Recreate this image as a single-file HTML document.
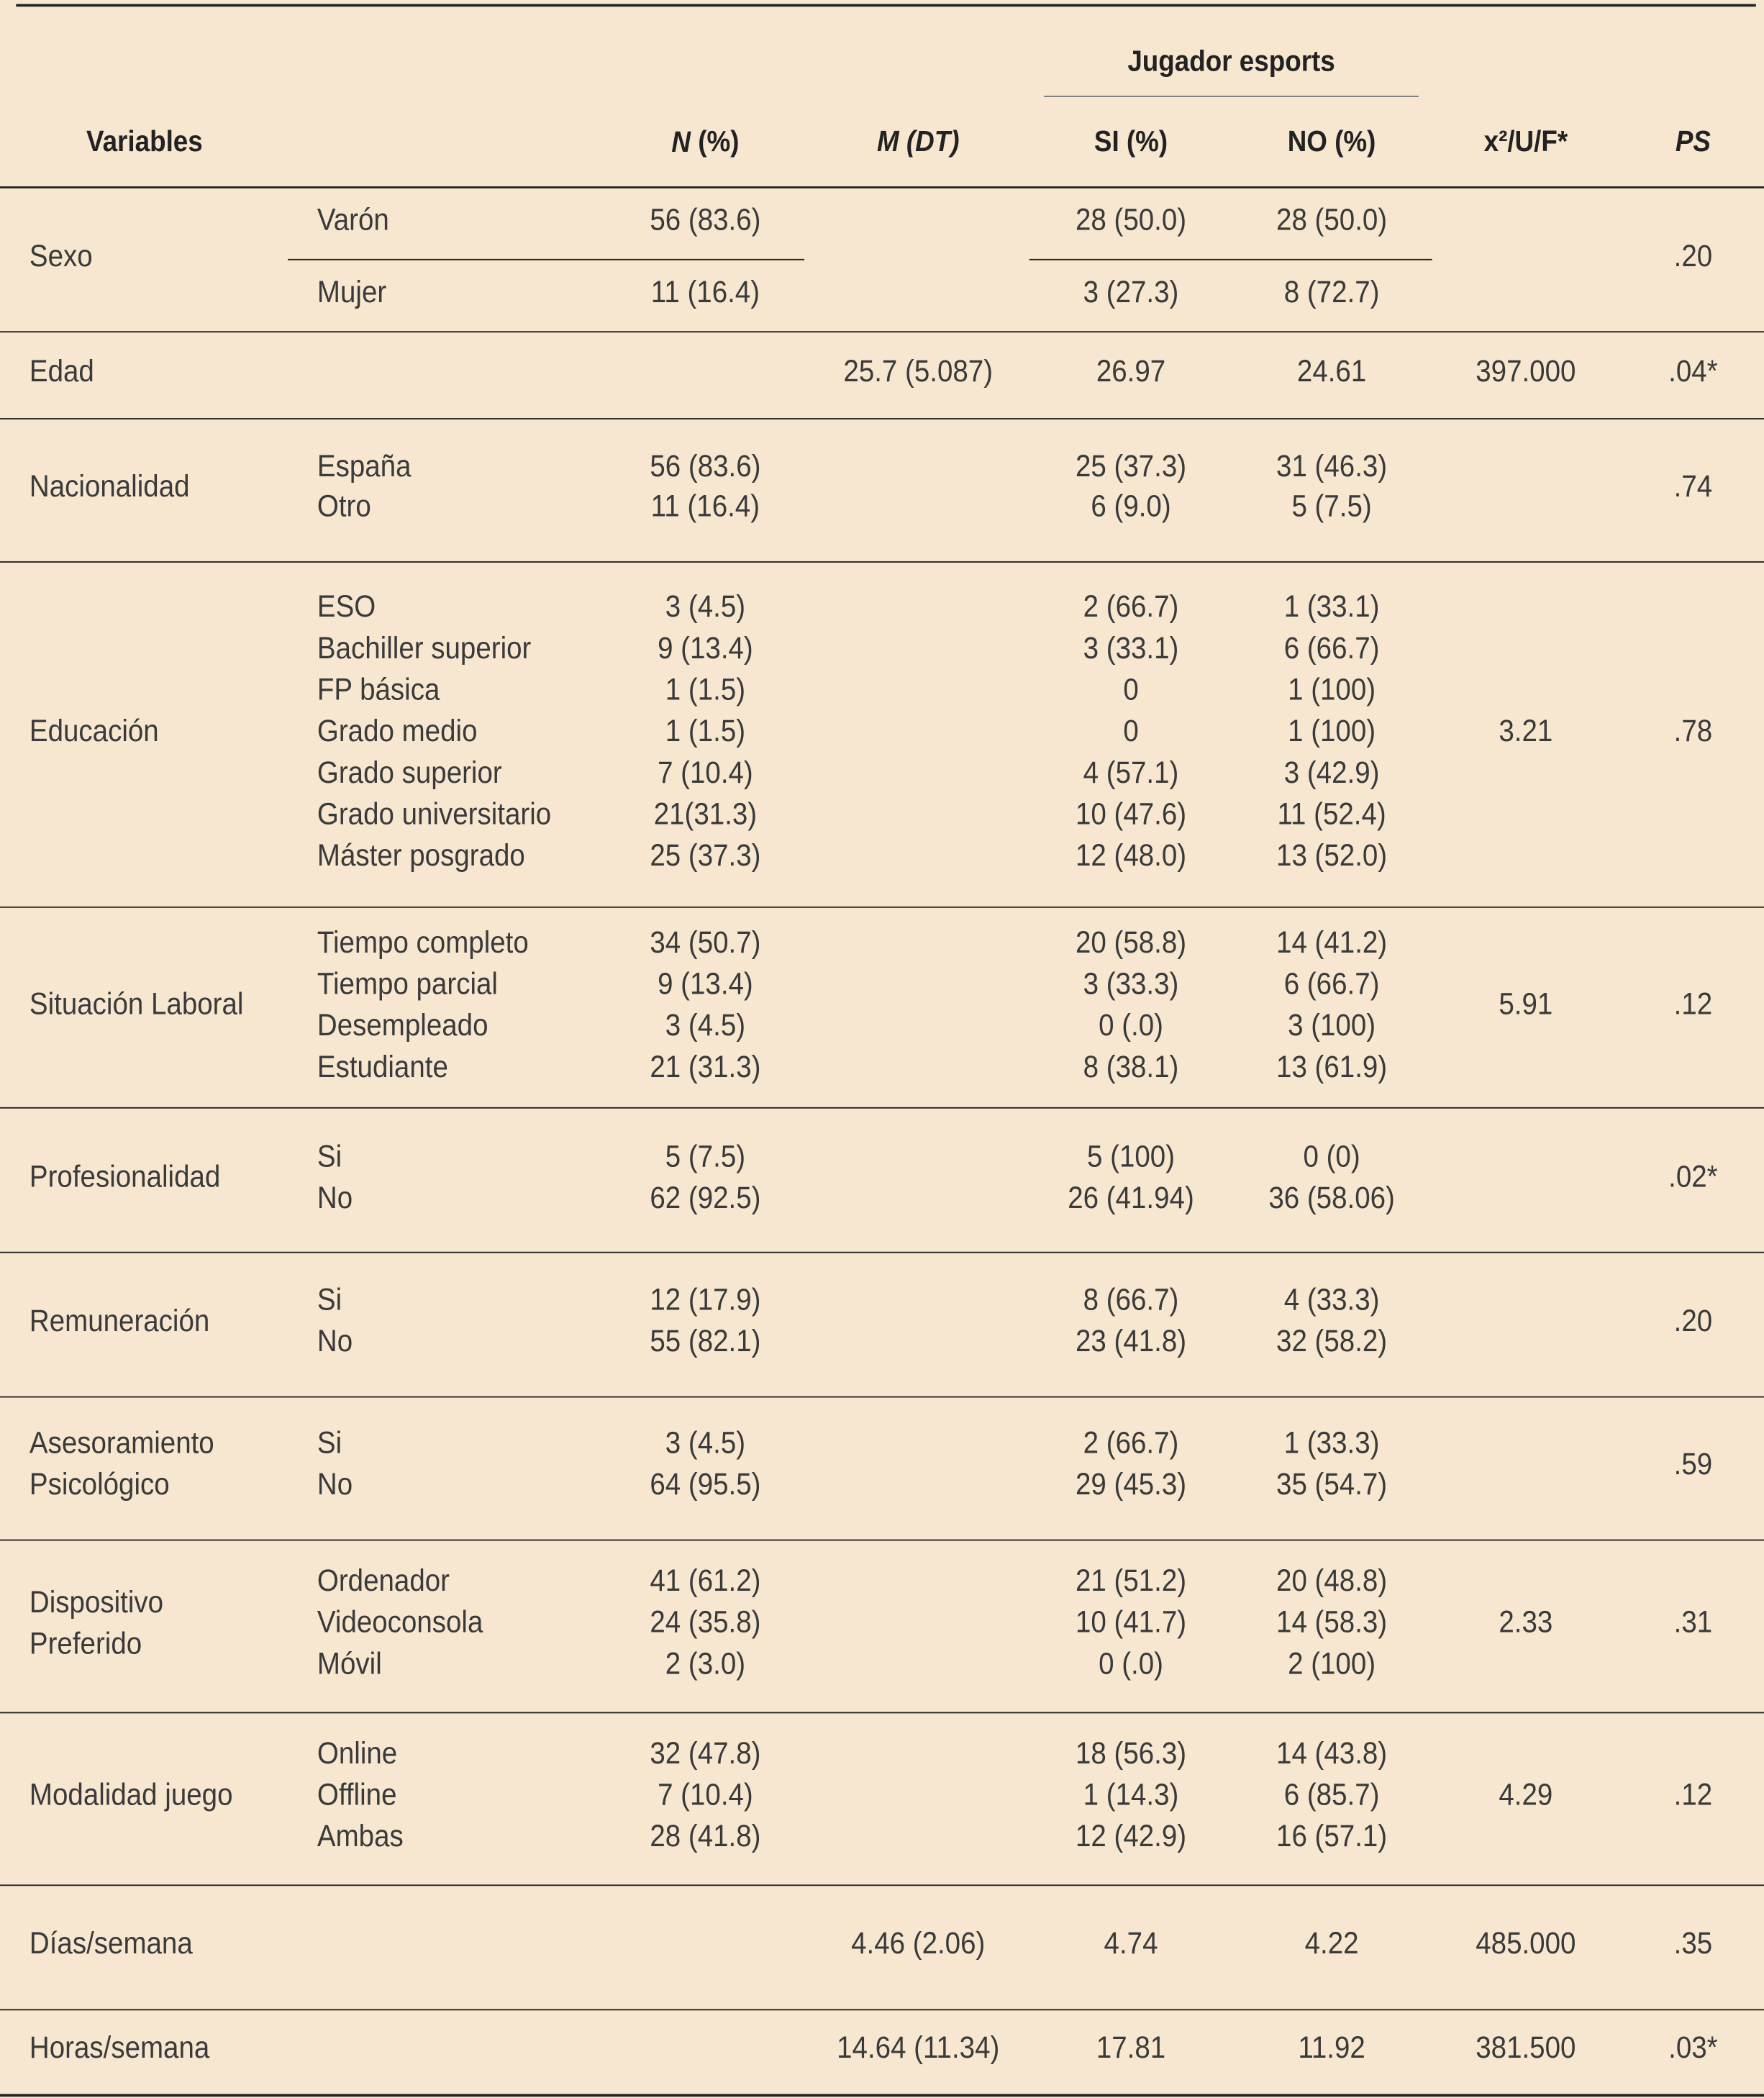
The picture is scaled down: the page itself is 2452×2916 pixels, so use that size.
<!DOCTYPE html>
<html><head><meta charset="utf-8"><style>
html,body{margin:0;padding:0;background:#f7e7d0;}
svg{display:block}
text{font-family:"Liberation Sans Narrow","Liberation Sans",sans-serif;font-size:23px;fill:#3a3a3a;dominant-baseline:central;transform-box:fill-box;transform-origin:left center;transform:scaleX(0.9)}
.h{fill:#222;font-weight:bold;font-size:22px}
.c{text-anchor:middle;transform-origin:center center}
</style></head><body>
<svg width="2452" height="2916" viewBox="0 0 1318 1568" preserveAspectRatio="none">
<rect width="1318" height="1568" fill="#f7e7d0"/>
<g stroke="#222">
<line x1="12" y1="4" x2="1312" y2="4" stroke-width="2"/>
<line x1="780" y1="72" x2="1060" y2="72" stroke="#777" stroke-width="1"/>
<line x1="0" y1="140" x2="1318" y2="140" stroke-width="1.5"/>
<line x1="215" y1="194" x2="601" y2="194" stroke-width="1"/>
<line x1="769" y1="194" x2="1070" y2="194" stroke-width="1"/>
<g stroke-width="1">
<line x1="0" y1="248" x2="1318" y2="248"/><line x1="0" y1="313" x2="1318" y2="313"/>
<line x1="0" y1="420" x2="1318" y2="420"/><line x1="0" y1="678" x2="1318" y2="678"/>
<line x1="0" y1="828" x2="1318" y2="828"/><line x1="0" y1="936" x2="1318" y2="936"/>
<line x1="0" y1="1044" x2="1318" y2="1044"/><line x1="0" y1="1151" x2="1318" y2="1151"/>
<line x1="0" y1="1280" x2="1318" y2="1280"/><line x1="0" y1="1409" x2="1318" y2="1409"/>
<line x1="0" y1="1502" x2="1318" y2="1502"/>
</g>
<line x1="0" y1="1566" x2="1318" y2="1566" stroke-width="2"/>
</g>
<text class="h c" x="920" y="46">Jugador esports</text>
<text class="h c" x="108" y="106">Variables</text>
<text class="h c" x="527" y="106"><tspan font-style="italic">N</tspan> (%)</text>
<text class="h c" x="686" y="106" font-style="italic">M (DT)</text>
<text class="h c" x="845" y="106">SI (%)</text>
<text class="h c" x="995" y="106">NO (%)</text>
<text class="h c" x="1140" y="106">x²/U/F*</text>
<text class="h c" x="1265" y="106" font-style="italic">PS</text>

<text x="22" y="191">Sexo</text>
<text x="237" y="164">Varón</text><text class="c" x="527" y="164">56 (83.6)</text><text class="c" x="845" y="164">28 (50.0)</text><text class="c" x="995" y="164">28 (50.0)</text>
<text x="237" y="218">Mujer</text><text class="c" x="527" y="218">11 (16.4)</text><text class="c" x="845" y="218">3 (27.3)</text><text class="c" x="995" y="218">8 (72.7)</text>
<text class="c" x="1265" y="191">.20</text>

<text x="22" y="277">Edad</text><text class="c" x="686" y="277">25.7 (5.087)</text><text class="c" x="845" y="277">26.97</text><text class="c" x="995" y="277">24.61</text><text class="c" x="1140" y="277">397.000</text><text class="c" x="1265" y="277">.04*</text>

<text x="22" y="363">Nacionalidad</text>
<text x="237" y="348">España</text><text class="c" x="527" y="348">56 (83.6)</text><text class="c" x="845" y="348">25 (37.3)</text><text class="c" x="995" y="348">31 (46.3)</text>
<text x="237" y="378">Otro</text><text class="c" x="527" y="378">11 (16.4)</text><text class="c" x="845" y="378">6 (9.0)</text><text class="c" x="995" y="378">5 (7.5)</text>
<text class="c" x="1265" y="363">.74</text>

<text x="22" y="546">Educación</text>
<text x="237" y="453">ESO</text><text class="c" x="527" y="453">3 (4.5)</text><text class="c" x="845" y="453">2 (66.7)</text><text class="c" x="995" y="453">1 (33.1)</text>
<text x="237" y="484">Bachiller superior</text><text class="c" x="527" y="484">9 (13.4)</text><text class="c" x="845" y="484">3 (33.1)</text><text class="c" x="995" y="484">6 (66.7)</text>
<text x="237" y="515">FP básica</text><text class="c" x="527" y="515">1 (1.5)</text><text class="c" x="845" y="515">0</text><text class="c" x="995" y="515">1 (100)</text>
<text x="237" y="546">Grado medio</text><text class="c" x="527" y="546">1 (1.5)</text><text class="c" x="845" y="546">0</text><text class="c" x="995" y="546">1 (100)</text>
<text x="237" y="577">Grado superior</text><text class="c" x="527" y="577">7 (10.4)</text><text class="c" x="845" y="577">4 (57.1)</text><text class="c" x="995" y="577">3 (42.9)</text>
<text x="237" y="608">Grado universitario</text><text class="c" x="527" y="608">21(31.3)</text><text class="c" x="845" y="608">10 (47.6)</text><text class="c" x="995" y="608">11 (52.4)</text>
<text x="237" y="639">Máster posgrado</text><text class="c" x="527" y="639">25 (37.3)</text><text class="c" x="845" y="639">12 (48.0)</text><text class="c" x="995" y="639">13 (52.0)</text>
<text class="c" x="1140" y="546">3.21</text><text class="c" x="1265" y="546">.78</text>

<text x="22" y="750">Situación Laboral</text>
<text x="237" y="704">Tiempo completo</text><text class="c" x="527" y="704">34 (50.7)</text><text class="c" x="845" y="704">20 (58.8)</text><text class="c" x="995" y="704">14 (41.2)</text>
<text x="237" y="735">Tiempo parcial</text><text class="c" x="527" y="735">9 (13.4)</text><text class="c" x="845" y="735">3 (33.3)</text><text class="c" x="995" y="735">6 (66.7)</text>
<text x="237" y="766">Desempleado</text><text class="c" x="527" y="766">3 (4.5)</text><text class="c" x="845" y="766">0 (.0)</text><text class="c" x="995" y="766">3 (100)</text>
<text x="237" y="797">Estudiante</text><text class="c" x="527" y="797">21 (31.3)</text><text class="c" x="845" y="797">8 (38.1)</text><text class="c" x="995" y="797">13 (61.9)</text>
<text class="c" x="1140" y="750">5.91</text><text class="c" x="1265" y="750">.12</text>

<text x="22" y="879">Profesionalidad</text>
<text x="237" y="864">Si</text><text class="c" x="527" y="864">5 (7.5)</text><text class="c" x="845" y="864">5 (100)</text><text class="c" x="995" y="864">0 (0)</text>
<text x="237" y="895">No</text><text class="c" x="527" y="895">62 (92.5)</text><text class="c" x="845" y="895">26 (41.94)</text><text class="c" x="995" y="895">36 (58.06)</text>
<text class="c" x="1265" y="879">.02*</text>

<text x="22" y="987">Remuneración</text>
<text x="237" y="971">Si</text><text class="c" x="527" y="971">12 (17.9)</text><text class="c" x="845" y="971">8 (66.7)</text><text class="c" x="995" y="971">4 (33.3)</text>
<text x="237" y="1002">No</text><text class="c" x="527" y="1002">55 (82.1)</text><text class="c" x="845" y="1002">23 (41.8)</text><text class="c" x="995" y="1002">32 (58.2)</text>
<text class="c" x="1265" y="987">.20</text>

<text x="22" y="1078">Asesoramiento</text><text x="22" y="1109">Psicológico</text>
<text x="237" y="1078">Si</text><text class="c" x="527" y="1078">3 (4.5)</text><text class="c" x="845" y="1078">2 (66.7)</text><text class="c" x="995" y="1078">1 (33.3)</text>
<text x="237" y="1109">No</text><text class="c" x="527" y="1109">64 (95.5)</text><text class="c" x="845" y="1109">29 (45.3)</text><text class="c" x="995" y="1109">35 (54.7)</text>
<text class="c" x="1265" y="1094">.59</text>

<text x="22" y="1197">Dispositivo</text><text x="22" y="1228">Preferido</text>
<text x="237" y="1181">Ordenador</text><text class="c" x="527" y="1181">41 (61.2)</text><text class="c" x="845" y="1181">21 (51.2)</text><text class="c" x="995" y="1181">20 (48.8)</text>
<text x="237" y="1212">Videoconsola</text><text class="c" x="527" y="1212">24 (35.8)</text><text class="c" x="845" y="1212">10 (41.7)</text><text class="c" x="995" y="1212">14 (58.3)</text>
<text x="237" y="1243">Móvil</text><text class="c" x="527" y="1243">2 (3.0)</text><text class="c" x="845" y="1243">0 (.0)</text><text class="c" x="995" y="1243">2 (100)</text>
<text class="c" x="1140" y="1212">2.33</text><text class="c" x="1265" y="1212">.31</text>

<text x="22" y="1341">Modalidad  juego</text>
<text x="237" y="1310">Online</text><text class="c" x="527" y="1310">32 (47.8)</text><text class="c" x="845" y="1310">18 (56.3)</text><text class="c" x="995" y="1310">14 (43.8)</text>
<text x="237" y="1341">Offline</text><text class="c" x="527" y="1341">7 (10.4)</text><text class="c" x="845" y="1341">1 (14.3)</text><text class="c" x="995" y="1341">6 (85.7)</text>
<text x="237" y="1372">Ambas</text><text class="c" x="527" y="1372">28 (41.8)</text><text class="c" x="845" y="1372">12 (42.9)</text><text class="c" x="995" y="1372">16 (57.1)</text>
<text class="c" x="1140" y="1341">4.29</text><text class="c" x="1265" y="1341">.12</text>

<text x="22" y="1452">Días/semana</text><text class="c" x="686" y="1452">4.46 (2.06)</text><text class="c" x="845" y="1452">4.74</text><text class="c" x="995" y="1452">4.22</text><text class="c" x="1140" y="1452">485.000</text><text class="c" x="1265" y="1452">.35</text>

<text x="22" y="1530">Horas/semana</text><text class="c" x="686" y="1530">14.64 (11.34)</text><text class="c" x="845" y="1530">17.81</text><text class="c" x="995" y="1530">11.92</text><text class="c" x="1140" y="1530">381.500</text><text class="c" x="1265" y="1530">.03*</text>
</svg>
</body></html>
